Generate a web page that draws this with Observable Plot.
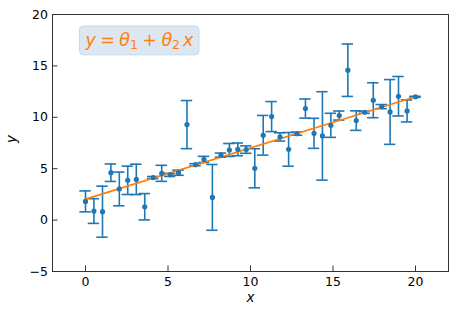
<!DOCTYPE html>
<html>
<head>
<meta charset="utf-8">
<script src="https://cdn.jsdelivr.net/npm/d3@7"></script>
<script src="https://cdn.jsdelivr.net/npm/@observablehq/plot@0.6"></script>
<style>
  html, body { margin: 0; padding: 0; background: #fff; }
  #chart { width: 457px; height: 316px; }
</style>
</head>
<body>
<div id="chart"></div>
<script>
const xValues = [0, 0.51, 1.03, 1.54, 2.05, 2.56, 3.08, 3.59, 4.10, 4.62, 5.13, 5.64, 6.15, 6.67, 7.18, 7.69, 8.21, 8.72, 9.23, 9.74,
  10.26, 10.77, 11.28, 11.79, 12.31, 12.82, 13.33, 13.85, 14.36, 14.87, 15.38, 15.90, 16.41, 16.92, 17.44, 17.95, 18.46, 18.97, 19.49, 20];
const yValues = [1.82, 0.88, 0.82, 4.61, 3.03, 3.87, 3.96, 1.30, 4.14, 4.55, 4.40, 4.61, 9.29, 5.39, 5.90, 2.21, 6.32, 6.82, 6.88, 6.86,
  5.04, 8.25, 10.07, 8.09, 6.88, 8.41, 10.85, 8.44, 8.19, 9.22, 10.17, 14.58, 9.68, 10.49, 11.66, 11.04, 10.52, 12.05, 10.62, 11.99];
const yErrors = [1.02, 1.2, 2.48, 0.85, 1.64, 1.38, 1.48, 1.28, 0.1, 0.78, 0.15, 0.25, 2.34, 0.1, 0.3, 3.2, 0.2, 0.63, 0.62, 0.36,
  1.9, 1.93, 1.46, 0.4, 1.64, 0.15, 0.93, 1.46, 4.3, 1.17, 0.44, 2.55, 0.95, 0.1, 1.7, 0.2, 3.15, 1.92, 1.07, 0.05];
const fitX = [0, 20];
const fitY = [2.03, 12.0];
const xTicks = [0, 5, 10, 15, 20];
const yTicks = [-5, 0, 5, 10, 15, 20];
const eqParts = [
  {t: "y", italic: true}, {t: "\u2005=\u2005"}, {t: "θ", italic: true}, {t: "1", sub: true},
  {t: "\u2005+\u2005"}, {t: "θ", italic: true}, {t: "2", sub: true}, {t: "\u2006"}, {t: "x", italic: true}
];

const points = xValues.map((x, i) => ({x, y: yValues[i], lo: yValues[i] - yErrors[i], hi: yValues[i] + yErrors[i]}));
const fit = fitX.map((x, i) => ({x, y: fitY[i]}));

const blue = "#1f77b4", orange = "#ff7f0e";
const W = 457, H = 316, mL = 52, mR = 9, mT = 14, mB = 45;
const fw = W - mL - mR, fh = H - mT - mB;
const capHalf = 5.7, tickLen = 5.5;

const plot = Plot.plot({
  width: W, height: H,
  marginLeft: mL, marginRight: mR, marginTop: mT, marginBottom: mB,
  style: {fontFamily: "DejaVu Sans", fontSize: "12.5px", color: "#000", background: "#fff"},
  x: {domain: [-2, 22]},
  y: {domain: [-5, 20]},
  marks: [
    Plot.axisX(xTicks, {tickSize: 0, tickPadding: 6, label: null, fontSize: 12.5}),
    Plot.axisY(yTicks, {tickSize: 0, tickPadding: 4.5, label: null, fontSize: 12.5}),
    Plot.ruleX(xTicks, {x: d => d, stroke: "#333", strokeWidth: 1, insetTop: fh - tickLen}),
    Plot.ruleY(yTicks, {y: d => d, stroke: "#333", strokeWidth: 1, insetRight: fw - tickLen}),
    Plot.ruleX(points, {x: "x", y1: "lo", y2: "hi", stroke: blue, strokeWidth: 1.6}),
    Plot.ruleY(points, {y: "hi", x1: "x", x2: "x", insetLeft: -capHalf, insetRight: -capHalf, stroke: blue, strokeWidth: 1.6}),
    Plot.ruleY(points, {y: "lo", x1: "x", x2: "x", insetLeft: -capHalf, insetRight: -capHalf, stroke: blue, strokeWidth: 1.6}),
    Plot.line(fit, {x: "x", y: "y", stroke: orange, strokeWidth: 1.8}),
    Plot.dot(points, {x: "x", y: "y", r: 2.6, fill: blue}),
    Plot.frame({stroke: "#333", strokeWidth: 1}),
    Plot.text(["x"], {frameAnchor: "bottom", dy: 30, fontStyle: "italic", fontSize: 13.5}),
    Plot.text(["y"], {frameAnchor: "left", dx: -41, rotate: -90, fontStyle: "italic", fontSize: 13.5}),
    Plot.text(["eq"], {frameAnchor: "top-left", dx: 33, dy: 31, textAnchor: "start", lineAnchor: "bottom",
      fill: orange, fontSize: 17.5, className: "eqlabel"})
  ]
});
document.getElementById("chart").appendChild(plot);

// Build the equation label with math-style parts and a rounded box behind it
const svg = d3.select(plot);
const txt = svg.select("g.eqlabel text");
txt.text(null);
eqParts.forEach((p, i) => {
  const ts = txt.append("tspan").text(p.t);
  if (p.italic) ts.attr("font-style", "italic");
  if (p.sub) ts.attr("font-size", "12.5px").attr("dy", "0.3em");
  else if (i > 0 && eqParts[i - 1].sub) ts.attr("dy", "-0.21em");
});
txt.attr("xml:space", "preserve").style("white-space", "pre");
const bb = txt.node().getBBox();
const g = svg.select("g.eqlabel");
const tr = txt.attr("transform");
g.insert("rect", "text")
  .attr("transform", tr)
  .attr("x", bb.x - 5).attr("y", bb.y - 3.5)
  .attr("width", bb.width + 10).attr("height", bb.height + 6)
  .attr("rx", 4).attr("ry", 4)
  .attr("fill", "#dde7f1").attr("stroke", "#c9d8e8").attr("stroke-width", 1);
</script>
</body>
</html>
